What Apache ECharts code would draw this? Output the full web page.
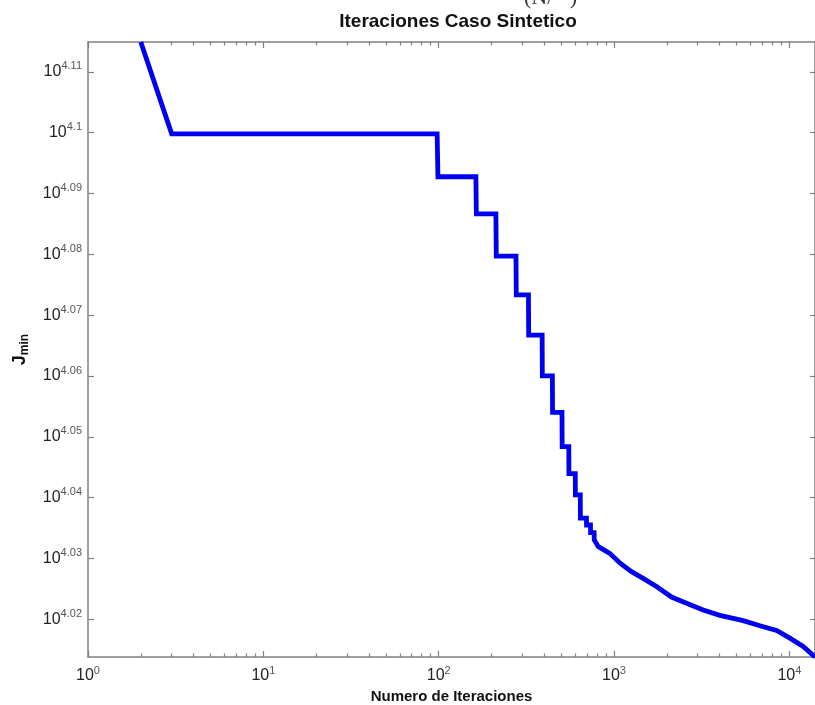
<!DOCTYPE html>
<html>
<head>
<meta charset="utf-8">
<script src="https://cdn.jsdelivr.net/npm/echarts@6/dist/echarts.min.js"></script>
<style>
  html, body { margin: 0; padding: 0; background: #ffffff; }
  #chart { width: 815px; height: 705px; }
</style>
</head>
<body>
<div id="chart"></div>
<script>
// Iteration number at which each J_min value was recorded
const iterations = [
  2, 3, 98, 99, 163, 164, 212, 213, 276, 277, 325, 326, 389, 390, 445, 446,
  505, 506, 552, 553, 601, 602, 642, 643, 696, 697, 734, 735, 770, 771,
  812, 875, 946, 1079, 1258, 1466, 1747, 2128, 2592, 3224, 4013, 4780,
  5452, 6786, 8453, 10067, 11987, 14000
];

// Best objective value found so far (J_min)
const jMin = [
  13029, 12584, 12584, 12381, 12381, 12208, 12208, 12015, 12015, 11840, 11840, 11661, 11661, 11482, 11482, 11325,
  11325, 11179, 11179, 11065, 11065, 10976, 10976, 10880, 10880, 10852, 10852, 10821, 10821, 10791,
  10764, 10750, 10736, 10697, 10662, 10635, 10602, 10560, 10535, 10508, 10487, 10475,
  10466, 10446, 10427, 10397, 10364, 10323
];

// Decade exponents labelled on the iteration axis
const xTickExponents = [0, 1, 2, 3, 4];
// Minor tick multipliers inside each decade
const xMinorMultipliers = [2, 3, 4, 5, 6, 7, 8, 9];
// Exponents labelled on the J_min axis
const yTickExponents = [4.02, 4.03, 4.04, 4.05, 4.06, 4.07, 4.08, 4.09, 4.1, 4.11];

const FONT = 'Liberation Sans';
const AXIS_GRAY = '#808080';

const xLo = 1;
const xHi = iterations[iterations.length - 1];
const jLo = Math.min(...jMin);
const jHi = Math.max(...jMin);

// exponent positions for the minor ticks (2..9 x 10^d) inside the axis range
const xMinorExponents = [];
xTickExponents.forEach(function (d) {
  xMinorMultipliers.forEach(function (k) {
    const e = Math.log10(k) + d;
    if (e <= Math.log10(xHi)) xMinorExponents.push(e);
  });
});

const powerRich = {
  b: { fontFamily: FONT, fontSize: 16, color: '#222222', lineHeight: 22 },
  e: { fontFamily: FONT, fontSize: 11, color: '#555555', lineHeight: 11, verticalAlign: 'top' }
};
function powerLabel(exp) {
  return '{b|10}{e|' + String(Math.round(exp * 100) / 100) + '}';
}

// Tick-only overlay axis in exponent space (log10 of the data)
function exponentAxis(position, lo, hi, ticks, tickLen, showLine) {
  return {
    type: 'value',
    position: position,
    min: lo,
    max: hi,
    axisLine: { show: showLine, onZero: false, lineStyle: { color: AXIS_GRAY, width: 1.5 } },
    axisTick: { show: true, inside: true, length: tickLen, customValues: ticks,
                lineStyle: { color: AXIS_GRAY, width: 1.2 } },
    axisLabel: { show: false },
    splitLine: { show: false }
  };
}

const xExpLo = Math.log10(xLo), xExpHi = Math.log10(xHi);
const yExpLo = Math.log10(jLo), yExpHi = Math.log10(jHi);

const bottomMajor = exponentAxis('bottom', xExpLo, xExpHi, xTickExponents, 6, true);
bottomMajor.axisLabel = {
  show: true, customValues: xTickExponents, margin: 8,
  formatter: function (v) { return powerLabel(v); }, rich: powerRich
};
bottomMajor.name = 'Numero de Iteraciones';
bottomMajor.nameLocation = 'middle';
bottomMajor.nameGap = 25;
bottomMajor.nameTextStyle = { fontFamily: FONT, fontWeight: 'bold', fontSize: 15, color: '#111111' };

const leftAxis = exponentAxis('left', yExpLo, yExpHi, yTickExponents, 6, true);
leftAxis.axisLabel = {
  show: true, customValues: yTickExponents, margin: 6,
  formatter: function (v) { return powerLabel(v); }, rich: powerRich
};
leftAxis.name = '{j|J}{m|min}';
leftAxis.nameLocation = 'middle';
leftAxis.nameRotate = 90;
leftAxis.nameGap = 57;
leftAxis.nameTextStyle = {
  rich: {
    j: { fontFamily: FONT, fontWeight: 'bold', fontSize: 18, color: '#111111', lineHeight: 22 },
    m: { fontFamily: FONT, fontWeight: 'bold', fontSize: 12, color: '#111111', lineHeight: 12, verticalAlign: 'bottom' }
  }
};

const option = {
  animation: false,
  backgroundColor: '#ffffff',
  title: {
    text: 'Iteraciones Caso Sintetico',
    left: 453,
    top: 7,
    textAlign: 'center',
    textStyle: { fontFamily: FONT, fontWeight: 'bold', fontSize: 19, color: '#111111' }
  },
  graphic: [{
    type: 'text',
    x: 524,
    y: 9,
    style: { text: '(N/   )', font: '22px "Liberation Serif"', fill: '#333333', textVerticalAlign: 'bottom' }
  }],
  grid: { left: 88, right: 0, top: 42, bottom: 48, containLabel: false, outerBoundsMode: 'none' },
  xAxis: [
    { type: 'log', logBase: 10, min: xLo, max: xHi, show: false },
    bottomMajor,
    exponentAxis('bottom', xExpLo, xExpHi, xMinorExponents, 3.5, false),
    exponentAxis('top', xExpLo, xExpHi, xTickExponents, 6, true),
    exponentAxis('top', xExpLo, xExpHi, xMinorExponents, 3.5, false)
  ],
  yAxis: [
    { type: 'log', logBase: 10, min: jLo, max: jHi, show: false },
    leftAxis,
    exponentAxis('right', yExpLo, yExpHi, yTickExponents, 5, true)
  ],
  series: [{
    type: 'line',
    xAxisIndex: 0,
    yAxisIndex: 0,
    data: iterations.map(function (n, i) { return [n, jMin[i]]; }),
    showSymbol: false,
    symbol: 'none',
    silent: true,
    lineStyle: { color: '#0000f0', width: 4.8, join: 'miter' }
  }]
};

const chart = echarts.init(document.getElementById('chart'), null, { renderer: 'canvas' });
chart.setOption(option);
</script>
</body>
</html>
